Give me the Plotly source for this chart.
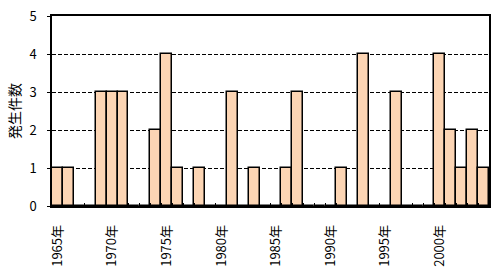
import plotly.graph_objects as go

years = list(range(1965, 2005))
counts = [1, 1, 0, 0, 3, 3, 3, 0, 0, 2,
          4, 1, 0, 1, 0, 0, 3, 0, 1, 0,
          0, 1, 3, 0, 0, 0, 1, 0, 4, 0,
          0, 3, 0, 0, 0, 4, 2, 1, 2, 1]
label_years = [1965, 1970, 1975, 1980, 1985, 1990, 1995, 2000]
label_text = [f"{y}年" for y in label_years]
y_title = "発生件数"

font = "Noto Sans CJK JP, DejaVu Sans, sans-serif"

fig = go.Figure()
fig.add_trace(go.Bar(
    x=years, y=counts,
    marker=dict(color="#FCD5B4", line=dict(color="black", width=1.5)),
    width=1.0,
))
fig.add_trace(go.Scatter(x=[years[0]], y=[0], xaxis="x2", mode="markers",
                         marker=dict(opacity=0), showlegend=False, hoverinfo="skip"))

xr = [years[0] - 0.5, years[-1] + 0.5]
fig.update_layout(
    width=496, height=274,
    margin=dict(l=52, r=5, t=16, b=68),
    paper_bgcolor="white", plot_bgcolor="white",
    showlegend=False, bargap=0,
    font=dict(family=font, size=12, color="black"),
    xaxis=dict(
        range=xr, tickmode="array", tickvals=label_years, ticktext=label_text,
        tickangle=-90, ticks="", showgrid=False, zeroline=False,
        showline=True, linecolor="black", linewidth=1.5, mirror=True,
        tickfont=dict(size=13), ticklabelstandoff=12,
    ),
    xaxis2=dict(
        range=xr, overlaying="x", side="bottom", tickmode="array",
        tickvals=[y - 0.5 for y in years] + [years[-1] + 0.5],
        ticks="inside", ticklen=3, tickcolor="black", tickwidth=1,
        showticklabels=False, showgrid=False, zeroline=False, showline=False,
    ),
    yaxis=dict(
        range=[0, 5], dtick=1, tick0=0, ticks="outside", ticklen=3,
        tickcolor="black", showgrid=True, gridcolor="black", gridwidth=1,
        griddash="4px,2px", zeroline=False,
        showline=True, linecolor="black", linewidth=1.5, mirror=True,
        tickfont=dict(size=13), ticklabelstandoff=8,
        title=dict(text=y_title, font=dict(size=14), standoff=6),
    ),
)

fig.write_html("out.html")
